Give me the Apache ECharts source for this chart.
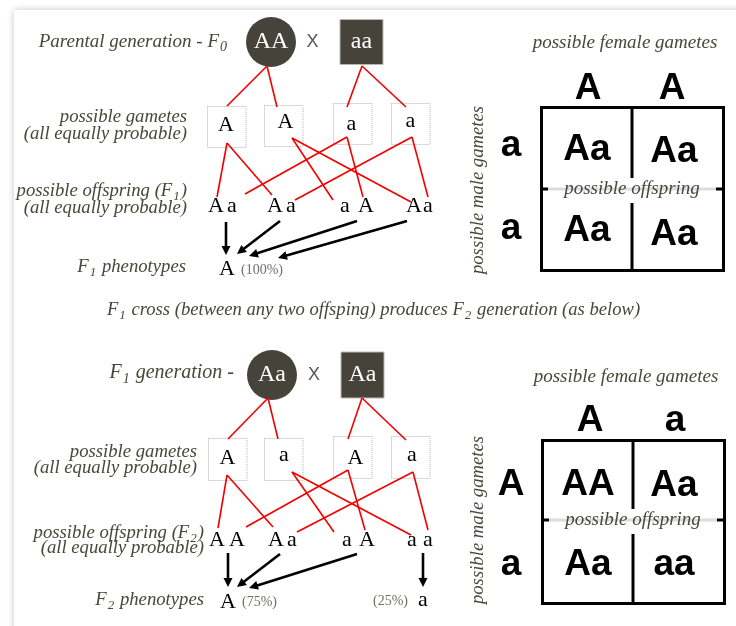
<!DOCTYPE html>
<html>
<head>
<meta charset="utf-8">
<script src="https://cdn.jsdelivr.net/npm/echarts@6/dist/echarts.min.js"></script>
<style>
html,body{margin:0;padding:0;background:#fff;}
#c{width:736px;height:626px;}
</style>
</head>
<body>
<div id="c"></div>
<script>
// ------------------------------------------------------------------ DATA
// top cross (F0 -> F1)
const sectionTitleTop = 'Parental generation - F_0';
const parentsTop = ['AA', 'aa'];
const gametesTop = ['A', 'A', 'a', 'a'];
const offspringTop = [['A', 'a'], ['A', 'a'], ['a', 'A'], ['A', 'a']];
const phenotypesTop = ['A'];
const phenotypeSharesTop = ['(100%)'];
const phenotypeOfOffspringTop = [0, 0, 0, 0];
const femaleGametesTop = ['A', 'A'];
const maleGametesTop = ['a', 'a'];
const punnettCellsTop = [['Aa', 'Aa'], ['Aa', 'Aa']];
const offspringLabelTop = ['possible offspring (F_1)', '(all equally probable)'];
const phenotypeLabelTop = 'F_1 phenotypes';

// bottom cross (F1 -> F2)
const sectionTitleBottom = 'F_1 generation -';
const parentsBottom = ['Aa', 'Aa'];
const gametesBottom = ['A', 'a', 'A', 'a'];
const offspringBottom = [['A', 'A'], ['A', 'a'], ['a', 'A'], ['a', 'a']];
const phenotypesBottom = ['A', 'a'];
const phenotypeSharesBottom = ['(75%)', '(25%)'];
const phenotypeOfOffspringBottom = [0, 0, 0, 1];
const femaleGametesBottom = ['A', 'a'];
const maleGametesBottom = ['A', 'a'];
const punnettCellsBottom = [['AA', 'Aa'], ['Aa', 'aa']];
const offspringLabelBottom = ['possible offspring (F_2)', '(all equally probable)'];
const phenotypeLabelBottom = 'F_2 phenotypes';

// shared texts and topology
const gameteLabel = ['possible gametes', '(all equally probable)'];
const crossNote = 'F_1 cross (between any two offsping) produces F_2 generation (as below)';
const femaleTitle = 'possible female gametes';
const maleTitle = 'possible male gametes';
const cellTitle = 'possible offspring';
const crossSign = 'X';
const gameteParent = [0, 0, 1, 1];               // parent of each gamete
const gameteLinks = [0, 0, 1, 1, 2, 2, 3, 3];     // gamete at the start of each red link

// ------------------------------------------------------------------ LAYOUT (positions only)
const layoutTop = {
  title: [228, 42, 19],
  parentX: [271, 361.5], parentY: 42, circleR: 25, squareW: 43, squareH: 45, cross: [312.5, 42],
  parentBottom: [[267, 66], [362, 66]],
  boxes: [[207, 106], [264, 105], [333, 103], [391, 103]], boxW: 38.5, boxH: 41,
  gameteText: [[226, 125.5], [285.5, 122.5], [351.5, 124], [410.5, 121]],
  gameteTop: [[227, 106], [277, 107], [347, 107], [406, 107]],
  gameteBottom: [[227, 143], [292, 138], [347, 137], [412, 137]],
  linkEnds: [[217, 197], [272, 195], [333, 200], [411, 202], [245, 194], [363, 197], [295, 200], [428, 197]],
  offspringY: 206, offspringX: [[216, 232], [275, 291], [345, 366], [414, 428]],
  arrowStart: [[226, 222], [280, 221], [357, 221], [407, 221]],
  arrowEnd: [[226, 255], [237, 254], [249, 256], [278, 258]],
  phenoPos: [[227, 269]], sharePos: [[241, 270, 'left']],
  gamLabel: [187, 117, 134], offLabel: [187, 191, 208], pheLabel: [186, 267],
  punnett: { x: 541, y: 107, w: 182, h: 163, midX: 632, midY: 189, headerX: [588, 672], headerY: 89,
    rowX: 511, rowY: [146, 229], cellX: [587, 674], cellY: [[150, 152], [231, 235]],
    female: [625, 43], male: [478, 190] }
};
const layoutBottom = {
  title: [234, 373, 20],
  parentX: [272, 362.5], parentY: 375, circleR: 25, squareW: 43, squareH: 46, cross: [314, 375],
  parentBottom: [[268, 398], [362, 398]],
  boxes: [[208, 438], [264, 438], [333, 436], [391, 436]], boxW: 38.5, boxH: 42,
  gameteText: [[227.5, 458.5], [284, 455], [355.5, 458.5], [412, 455]],
  gameteTop: [[228, 439], [278, 439], [348, 439], [406, 440]],
  gameteBottom: [[227, 475], [292, 472], [348, 470], [413, 472]],
  linkEnds: [[218, 528], [273, 527], [334, 532], [411, 535], [246, 527], [365, 530], [297, 532], [428, 530]],
  offspringY: 540, offspringX: [[217, 237], [276, 292], [347, 367], [412, 428]],
  arrowStart: [[228, 553], [280, 554], [357, 554], [423, 553]],
  arrowEnd: [[228, 587], [237, 587], [249, 588], [423, 587]],
  phenoPos: [[228, 602], [423, 600]], sharePos: [[242, 602, 'left'], [408, 601, 'right']],
  gamLabel: [197, 452, 468], offLabel: [204, 533, 548], pheLabel: [204, 600],
  punnett: { x: 542, y: 440, w: 182, h: 163, midX: 633, midY: 520, headerX: [590, 675], headerY: 420.5,
    rowX: 511, rowY: [485, 565], cellX: [588, 674], cellY: [[485, 486], [565, 565]],
    female: [626, 377], male: [478, 520] }
};
const crossNotePos = [107, 310];

// ------------------------------------------------------------------ STYLES
const SERIF = "'Liberation Serif', 'Times New Roman', serif";
const SANS = "'Liberation Sans', Arial, sans-serif";
const INK = '#47473a';
const RED = '#f20000';
const DARK = '#46443a';
const LABEL = 18.7;

// ------------------------------------------------------------------ BUILD ELEMENTS
const items = [];
items.push({ kind: 'card', x: 14, y: 10, w: 740, h: 640 });

function text(x, y, t, o) { items.push(Object.assign({ kind: 'text', x: x, y: y, text: t }, o || {})); }

function buildSection(L, d) {
  const P = L.punnett;
  // parents
  items.push({ kind: 'circle', x: L.parentX[0], y: L.parentY, r: L.circleR });
  items.push({ kind: 'square', x: L.parentX[1], y: L.parentY, w: L.squareW, h: L.squareH });
  text(L.parentX[0], L.parentY, d.parents[0], { size: 24, color: '#fff' });
  text(L.parentX[1], L.parentY, d.parents[1], { size: 24, color: '#fff' });
  text(L.cross[0], L.cross[1], crossSign, { family: SANS, size: 18, color: '#555' });
  text(L.title[0], L.title[1], d.title, { size: L.title[2], italic: true, color: INK, align: 'right' });
  // gamete boxes
  d.gametes.forEach(function (g, i) {
    items.push({ kind: 'box', x: L.boxes[i][0], y: L.boxes[i][1], w: L.boxW, h: L.boxH });
  });
  // red links parent -> gametes
  gameteParent.forEach(function (p, i) {
    items.push({ kind: 'seg', x: L.parentBottom[p][0], y: L.parentBottom[p][1], x2: L.gameteTop[i][0], y2: L.gameteTop[i][1], color: RED, width: 1.6 });
  });
  // red links gametes -> offspring
  gameteLinks.forEach(function (g, k) {
    items.push({ kind: 'seg', x: L.gameteBottom[g][0], y: L.gameteBottom[g][1], x2: L.linkEnds[k][0], y2: L.linkEnds[k][1], color: RED, width: 1.6 });
  });
  // gamete letters
  d.gametes.forEach(function (g, i) { text(L.gameteText[i][0], L.gameteText[i][1], g, { size: 22 }); });
  // offspring letters
  d.offspring.forEach(function (pair, i) {
    pair.forEach(function (ch, j) { text(L.offspringX[i][j], L.offspringY, ch, { size: 22 }); });
  });
  // arrows to phenotypes
  d.phenoOf.forEach(function (k, i) {
    items.push({ kind: 'arrow', x: L.arrowStart[i][0], y: L.arrowStart[i][1], x2: L.arrowEnd[i][0], y2: L.arrowEnd[i][1] });
  });
  d.phenotypes.forEach(function (ph, k) {
    text(L.phenoPos[k][0], L.phenoPos[k][1], ph, { size: 22 });
    text(L.sharePos[k][0], L.sharePos[k][1], d.shares[k], { size: 14, color: '#707066', align: L.sharePos[k][2] });
  });
  // left labels
  text(L.gamLabel[0], L.gamLabel[1], gameteLabel[0], { size: LABEL, italic: true, color: INK, align: 'right' });
  text(L.gamLabel[0], L.gamLabel[2], gameteLabel[1], { size: LABEL, italic: true, color: INK, align: 'right' });
  text(L.offLabel[0], L.offLabel[1], d.offLabel[0], { size: LABEL, italic: true, color: INK, align: 'right' });
  text(L.offLabel[0], L.offLabel[2], d.offLabel[1], { size: LABEL, italic: true, color: INK, align: 'right' });
  text(L.pheLabel[0], L.pheLabel[1], d.pheLabel, { size: LABEL, italic: true, color: INK, align: 'right' });
  // punnett square
  items.push({ kind: 'seg', x: P.x + 6, y: P.midY, x2: P.x + P.w - 6, y2: P.midY, color: '#dcdcdc', width: 3 });
  items.push({ kind: 'seg', x: P.x, y: P.midY, x2: P.x + 7, y2: P.midY, color: '#000', width: 3 });
  items.push({ kind: 'seg', x: P.x + P.w - 7, y: P.midY, x2: P.x + P.w, y2: P.midY, color: '#000', width: 3 });
  items.push({ kind: 'seg', x: P.midX, y: P.y, x2: P.midX, y2: P.midY - 11, color: '#000', width: 3 });
  items.push({ kind: 'seg', x: P.midX, y: P.midY + 14, x2: P.midX, y2: P.y + P.h, color: '#000', width: 3 });
  items.push({ kind: 'frame', x: P.x, y: P.y, w: P.w, h: P.h });
  text(P.female[0], P.female[1], femaleTitle, { size: 19, italic: true, color: INK });
  text(P.male[0], P.male[1], maleTitle, { size: LABEL, italic: true, color: INK, rot: Math.PI / 2 });
  text(P.midX, P.midY, cellTitle, { size: 19, italic: true, color: INK });
  d.female.forEach(function (g, j) { text(P.headerX[j], P.headerY, g, { family: SANS, size: 37, bold: true }); });
  d.male.forEach(function (g, i) { text(P.rowX, P.rowY[i], g, { family: SANS, size: 37, bold: true }); });
  d.cells.forEach(function (row, i) {
    row.forEach(function (c, j) { text(P.cellX[j], P.cellY[i][j], c, { family: SANS, size: 37, bold: true }); });
  });
}

buildSection(layoutTop, {
  title: sectionTitleTop, parents: parentsTop, gametes: gametesTop, offspring: offspringTop,
  phenotypes: phenotypesTop, shares: phenotypeSharesTop, phenoOf: phenotypeOfOffspringTop,
  female: femaleGametesTop, male: maleGametesTop, cells: punnettCellsTop,
  offLabel: offspringLabelTop, pheLabel: phenotypeLabelTop
});
text(crossNotePos[0], crossNotePos[1], crossNote, { size: 18.6, italic: true, color: INK, align: 'left' });
buildSection(layoutBottom, {
  title: sectionTitleBottom, parents: parentsBottom, gametes: gametesBottom, offspring: offspringBottom,
  phenotypes: phenotypesBottom, shares: phenotypeSharesBottom, phenoOf: phenotypeOfOffspringBottom,
  female: femaleGametesBottom, male: maleGametesBottom, cells: punnettCellsBottom,
  offLabel: offspringLabelBottom, pheLabel: phenotypeLabelBottom
});

// ------------------------------------------------------------------ RENDER
function toRich(str) {
  return str.split(/(_\d)/).filter(function (s) { return s.length; }).map(function (s) {
    return s.charAt(0) === '_' ? '{s|' + s.charAt(1) + '}' : '{m|' + s + '}';
  }).join('');
}

function renderItem(params, api) {
  const it = items[params.dataIndex];
  const p = api.coord([it.x, it.y]);
  if (it.kind === 'card') {
    const q = api.coord([it.x + it.w, it.y + it.h]);
    return { type: 'rect', shape: { x: p[0], y: p[1], width: q[0] - p[0], height: q[1] - p[1] },
      style: { fill: '#fff', shadowBlur: 7, shadowColor: 'rgba(0,0,0,0.22)' } };
  }
  if (it.kind === 'circle') {
    const e = api.coord([it.x + it.r, it.y]);
    return { type: 'circle', shape: { cx: p[0], cy: p[1], r: e[0] - p[0] }, style: { fill: DARK } };
  }
  if (it.kind === 'square') {
    const a = api.coord([it.x - it.w / 2, it.y - it.h / 2]);
    const b = api.coord([it.x + it.w / 2, it.y + it.h / 2]);
    return { type: 'rect', shape: { x: a[0], y: a[1], width: b[0] - a[0], height: b[1] - a[1] },
      style: { fill: DARK, stroke: '#b9b8b0', lineWidth: 1 } };
  }
  if (it.kind === 'box' || it.kind === 'frame') {
    const q = api.coord([it.x + it.w, it.y + it.h]);
    const framed = it.kind === 'frame';
    return { type: 'rect', shape: { x: p[0] + 0.5, y: p[1] + 0.5, width: q[0] - p[0], height: q[1] - p[1] },
      style: framed ? { fill: null, stroke: '#000', lineWidth: 3 }
                    : { fill: '#fff', stroke: '#b4b4b4', lineWidth: 1, lineDash: [1, 1] } };
  }
  if (it.kind === 'seg') {
    const q = api.coord([it.x2, it.y2]);
    return { type: 'line', shape: { x1: p[0], y1: p[1], x2: q[0], y2: q[1] },
      style: { stroke: it.color, lineWidth: it.width } };
  }
  if (it.kind === 'arrow') {
    const q = api.coord([it.x2, it.y2]);
    const dx = q[0] - p[0], dy = q[1] - p[1];
    const len = Math.sqrt(dx * dx + dy * dy);
    const ux = dx / len, uy = dy / len;
    const HL = 9, HW = 4.5;
    const bx = q[0] - ux * HL, by = q[1] - uy * HL;
    return { type: 'group', children: [
      { type: 'line', shape: { x1: p[0], y1: p[1], x2: bx + ux * 2, y2: by + uy * 2 }, style: { stroke: '#000', lineWidth: 2.6 } },
      { type: 'polygon', shape: { points: [[q[0], q[1]], [bx - uy * HW, by + ux * HW], [bx + uy * HW, by - ux * HW]] }, style: { fill: '#000' } }
    ] };
  }
  // text
  const size = it.size || 18;
  const fam = it.family || SERIF;
  const fstyle = it.italic ? 'italic' : 'normal';
  const fw = it.bold ? 'bold' : 'normal';
  const col = it.color || '#000';
  const st = { text: it.text, fontFamily: fam, fontSize: size, fontStyle: fstyle, fontWeight: fw,
    fill: col, align: it.align || 'center', verticalAlign: 'middle' };
  if (it.text.indexOf('_') >= 0) {
    st.text = toRich(it.text);
    st.rich = {
      m: { fontFamily: fam, fontSize: size, fontStyle: fstyle, fontWeight: fw, fill: col },
      s: { fontFamily: fam, fontSize: Math.round(size * 0.72), fontStyle: fstyle, fontWeight: fw, fill: col,
           padding: [Math.round(size * 0.6), 1, 0, 1] }
    };
  }
  return { type: 'text', x: p[0], y: p[1], rotation: it.rot || 0, style: st };
}

const chart = echarts.init(document.getElementById('c'), null, { renderer: 'canvas' });
chart.setOption({
  animation: false,
  backgroundColor: '#ffffff',
  grid: { left: 0, right: 0, top: 0, bottom: 0 },
  xAxis: { type: 'value', min: 0, max: 736, show: false },
  yAxis: { type: 'value', min: 0, max: 626, inverse: true, show: false },
  series: [{
    type: 'custom',
    coordinateSystem: 'cartesian2d',
    silent: true,
    clip: false,
    encode: { x: 0, y: 1 },
    data: items.map(function (it) { return [it.x, it.y]; }),
    renderItem: renderItem
  }]
});
</script>
</body>
</html>
